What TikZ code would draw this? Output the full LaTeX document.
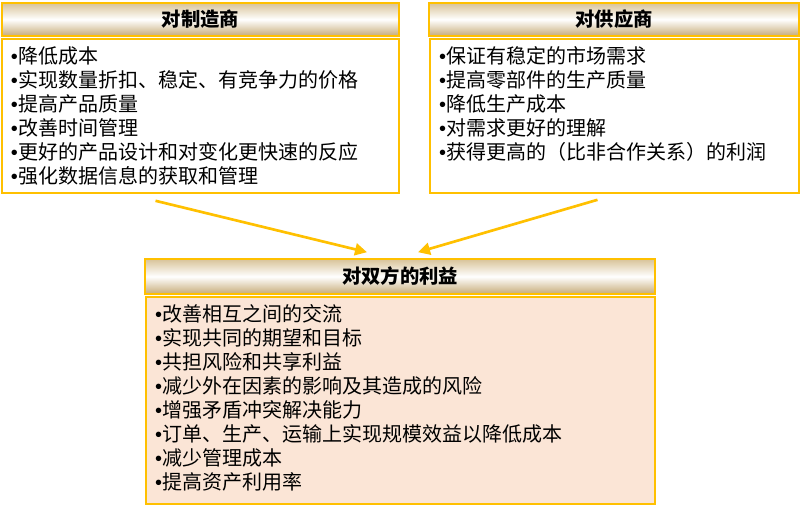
\documentclass[tikz,border=0pt]{standalone}
\usepackage{fontspec}
\setmainfont{Noto Sans CJK SC}
\newfontfamily\bulfont{Liberation Sans}
\usepackage{xcolor}
\usepackage{tikz}
\usetikzlibrary{arrows.meta, calc}
\definecolor{gold}{HTML}{FFC000}
\definecolor{tanA}{HTML}{D8C398}
\definecolor{tanB}{HTML}{C6AB78}
\definecolor{peach}{HTML}{FBE5D6}
\newcommand{\bul}{{\bulfont •}}
\tikzstyle{headbox} = [rectangle, draw=gold, line width=1.2pt, top color=tanA, bottom color=tanB, middle color=white, inner sep=0pt, font=\fontsize{14.5pt}{17pt}\selectfont\bfseries]
\tikzstyle{bodybox} = [rectangle, draw=gold, line width=1.2pt, align=left, inner xsep=6.75pt, inner ysep=6pt, text height=12.75pt, font=\fontsize{15pt}{18pt}\selectfont]
\tikzstyle{arrow}   = [line width=2pt, draw=gold, -{Triangle[length=9pt,width=9pt]}]
\tikzset{every node/.style={align=center}}

\begin{document}
\begin{tikzpicture}[x=0.75pt, y=-0.75pt]
    \useasboundingbox (0,0) rectangle (800,505);
    \node (mfrhead) at (200.5, 19.5) [headbox, minimum width=297.75pt, minimum height=24.75pt] {对制造商};
    \node (mfrbody) at (200.5, 116)  [bodybox, text width=284.25pt, text depth=90.75pt]
        {\bul{}降低成本\\\bul{}实现数量折扣、稳定、有竞争力的价格\\\bul{}提高产品质量\\\bul{}改善时间管理\\\bul{}更好的产品设计和对变化更快速的反应\\\bul{}强化数据信息的获取和管理};
    \node (suphead) at (614, 19.5)   [headbox, minimum width=277.5pt, minimum height=24.75pt] {对供应商};
    \node (supbody) at (614.5, 116)  [bodybox, text width=263.25pt, text depth=90.75pt]
        {\bul{}保证有稳定的市场需求\\\bul{}提高零部件的生产质量\\\bul{}降低生产成本\\\bul{}对需求更好的理解\\\bul{}获得更高的（比非合作关系）的利润};
    \node (benhead) at (400, 276.5)  [headbox, minimum width=382.5pt, minimum height=26.25pt] {对双方的利益};
    \node (benbody) at (400.5, 400.5) [bodybox, fill=peach, text width=368.25pt, text depth=130.5pt]
        {\bul{}改善相互之间的交流\\\bul{}实现共同的期望和目标\\\bul{}共担风险和共享利益\\\bul{}减少外在因素的影响及其造成的风险\\\bul{}增强矛盾冲突解决能力\\\bul{}订单、生产、运输上实现规模效益以降低成本\\\bul{}减少管理成本\\\bul{}提高资产利用率};

    % both sides point down to the shared benefits
    \draw [arrow] ($(mfrbody.south)+(-45,7)$) -- ($(benhead.north)+(-33,-6)$);
    \draw [arrow] ($(supbody.south)+(-17,6)$) -- ($(benhead.north)+(18,-6)$);
\end{tikzpicture}
\end{document}
